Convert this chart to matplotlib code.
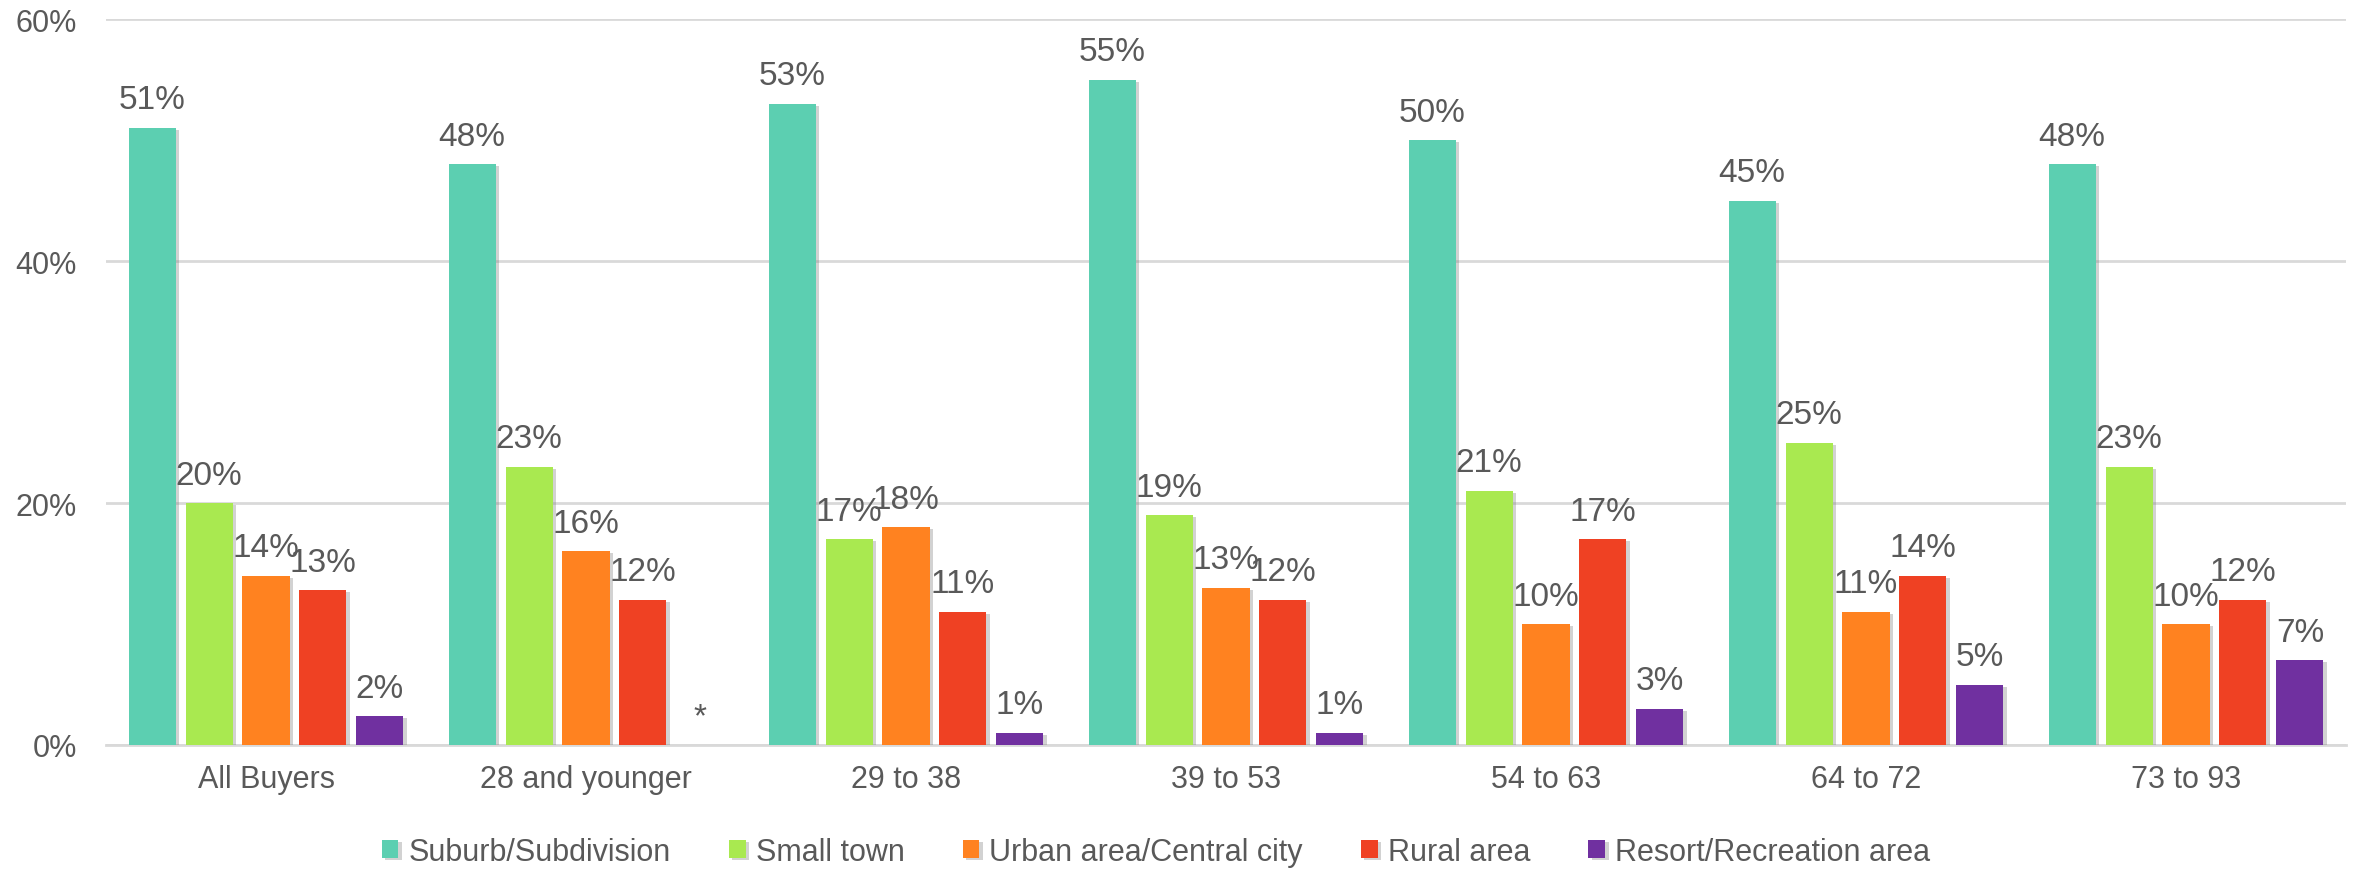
import numpy as np
import matplotlib
matplotlib.use("Agg")
import matplotlib.pyplot as plt
import matplotlib.patheffects as pe

plt.rcParams['font.family'] = ['Liberation Sans', 'DejaVu Sans']

groups = ["All Buyers", "28 and younger", "29 to 38", "39 to 53", "54 to 63", "64 to 72", "73 to 93"]
series = ["Suburb/Subdivision", "Small town", "Urban area/Central city", "Rural area", "Resort/Recreation area"]

suburb = [51, 48, 53, 55, 50, 45, 48]
small_town = [20, 23, 17, 19, 21, 25, 23]
urban = [14, 16, 18, 13, 10, 11, 10]
rural = [12.8, 12, 11, 12, 17, 14, 12]
resort = [2.4, 0, 1, 1, 3, 5, 7]
# "*" = less than 1 percent / not shown
resort_labels = ["2%", "*", "1%", "1%", "3%", "5%", "7%"]

colors = ["#5CCFB1", "#A9E950", "#FF8220", "#EF4123", "#7030A0"]
text_col = "#595959"

fig = plt.figure(figsize=(23.54, 8.70), dpi=100)
ax = fig.add_axes([106 / 2354, 1 - 746 / 870, 2240 / 2354, 726 / 870])

x = np.arange(len(groups))
pitch = 0.178
width = 0.147
shadow = [pe.SimplePatchShadow(offset=(2.5, -1.5), shadow_rgbFace="#7f7f7f", alpha=0.35), pe.Normal()]

all_vals = [suburb, small_town, urban, rural, resort]
for i, (vals, name, c) in enumerate(zip(all_vals, series, colors)):
    pos = x + (i - 2) * pitch
    bars = ax.bar(pos, vals, width, color=c, label=name, zorder=3)
    for b in bars:
        if b.get_height() > 0:
            b.set_path_effects(shadow)
    if i == 4:
        labs = resort_labels
    else:
        labs = [f"{round(v)}%" for v in vals]
    for p, v, lab in zip(pos, vals, labs):
        ax.annotate(lab, (p, v), xytext=(0, 14), textcoords="offset points",
                    ha="center", va="baseline", fontsize=24, color=text_col)

ax.set_xlim(-0.5, len(groups) - 0.5)
ax.set_ylim(0, 60)
ax.set_yticks([0, 20, 40, 60])
ax.set_yticklabels(["0%", "20%", "40%", "60%"])
ax.set_xticks(x)
ax.set_xticklabels(groups)
ax.tick_params(axis="both", length=0, labelsize=22, labelcolor=text_col)
ax.tick_params(axis="y", pad=21)
ax.tick_params(axis="x", pad=14)
ax.grid(axis="y", color="#D9D9D9", linewidth=2, zorder=0)
for s in ["top", "right", "left"]:
    ax.spines[s].set_visible(False)
ax.spines["bottom"].set_color("#D9D9D9")
ax.spines["bottom"].set_linewidth(2)

leg = fig.legend(loc="center", bbox_to_anchor=(1156 / 2354, 17 / 870), ncol=5, frameon=False,
                 fontsize=22, handlelength=0.55, handleheight=0.55, handletextpad=0.33,
                 columnspacing=1.9, borderaxespad=0, borderpad=0)
for t in leg.get_texts():
    t.set_color(text_col)

fig.savefig("out.png", dpi=100)
